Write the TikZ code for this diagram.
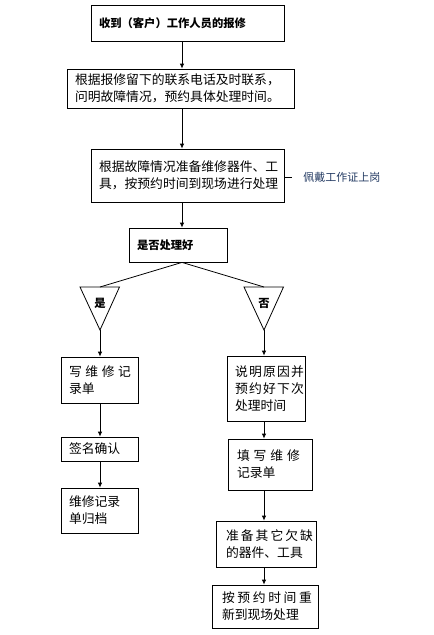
\documentclass[tikz,border=0pt]{standalone}
\usepackage{fontspec}
\usetikzlibrary{arrows.meta}
\newfontfamily\cjk{Noto Sans CJK SC}
\definecolor{badgeblue}{HTML}{243B63}
\newcommand{\spread}[2]{\makebox[#1][s]{#2}}

\begin{document}
\begin{tikzpicture}[x=1pt,y=-1pt,line width=0.8pt,
    box/.style={draw, inner xsep=8pt, inner ysep=0pt, align=left,
      font=\cjk\fontsize{12.8}{17}\selectfont},
    boldtext/.style={font=\cjk\bfseries\fontsize{11.3}{14}\selectfont},
    arr/.style={-{Latex[length=5pt,width=4.5pt]}}]
  \useasboundingbox (0,0) rectangle (434,635);
  \coordinate (main) at (182,0);
  % main column
  \node[box, boldtext, text width=177pt, minimum height=36pt] (recv) at (187.5,23)
    {收到（客户）工作人员的报修};
  \node[box, text width=211pt, minimum height=39pt] (contact) at (180.5,88.5)
    {根据报修留下的联系电话及时联系，\\问明故障情况，预约具体处理时间。};
  \node[box, text width=177pt, minimum height=53pt] (prepare) at (187.5,175.5)
    {根据故障情况准备维修器件、工\\具，按预约时间到现场进行处理};
  \node[box, boldtext, text width=82pt, minimum height=34pt] (check) at (178,245)
    {是否处理好};
  \node[font=\cjk\fontsize{11}{13}\selectfont, text=badgeblue, anchor=west,
    inner xsep=11pt] (badge) at (292,177) {佩戴工作证上岗};
  \draw (badge.west -| prepare.east) -- (badge.west);
  \draw[arr] (recv.south -| main) -- (contact.north -| main);
  \draw[arr] (contact.south -| main) -- (prepare.north -| main);
  \draw[arr] (prepare.south -| main) -- (check.north -| main);
  % branches
  \foreach \name/\x/\txt in {yes/100/是, no/264/否} {
    \coordinate (\name Top) at (\x,287);
    \coordinate (\name Tip) at (\x,330);
    \draw (\x-20,287) -- (\x+19.5,287) -- (\name Tip) -- cycle;
    \node[boldtext] (\name) at (\x,303) {\txt};
    \draw (check.south -| main) -- (\name Top);
  }
  % yes column
  \node[box, text width=61pt, minimum height=46pt] (write) at (99.5,380)
    {\spread{62pt}{写\hfill 维\hfill 修\hfill 记}\\录单};
  \node[box, text width=61pt, minimum height=24pt] (sign) at (99.5,449)
    {签名确认};
  \node[box, text width=61pt, minimum height=45pt] (archive) at (99.5,510.5)
    {维修记录\\单归档};
  \draw[arr] (yesTip) -- (write.north -| yesTip);
  \draw[arr] (write.south -| yesTip) -- (sign.north -| yesTip);
  \draw[arr] (sign.south -| yesTip) -- (archive.north -| yesTip);
  % no column
  \node[box, text width=62pt, minimum height=65pt] (explain) at (266,388.5)
    {\spread{69pt}{说\hfill 明\hfill 原\hfill 因\hfill 并}\\
     \spread{69pt}{预\hfill 约\hfill 好\hfill 下\hfill 次}\\处理时间};
  \node[box, inner xsep=9pt, text width=66pt, minimum height=51pt] (fill) at (270,464.5)
    {\spread{63pt}{填\hfill 写\hfill 维\hfill 修}\\记录单};
  \node[box, inner xsep=10pt, text width=80pt, minimum height=46pt] (parts) at (266,544)
    {\spread{87pt}{准\hfill 备\hfill 其\hfill 它\hfill 欠\hfill 缺}\\的器件、工具};
  \node[box, inner xsep=10pt, text width=86pt, minimum height=43pt] (revisit) at (265,606.5)
    {\spread{90pt}{按\hfill 预\hfill 约\hfill 时\hfill 间\hfill 重}\\新到现场处理};
  \draw[arr] (noTip) -- (explain.north -| noTip);
  \draw[arr] (explain.south -| noTip) -- (fill.north -| noTip);
  \draw[arr] (fill.south -| noTip) -- (parts.north -| noTip);
  \draw[arr] (parts.south -| noTip) -- (revisit.north -| noTip);
\end{tikzpicture}
\end{document}
